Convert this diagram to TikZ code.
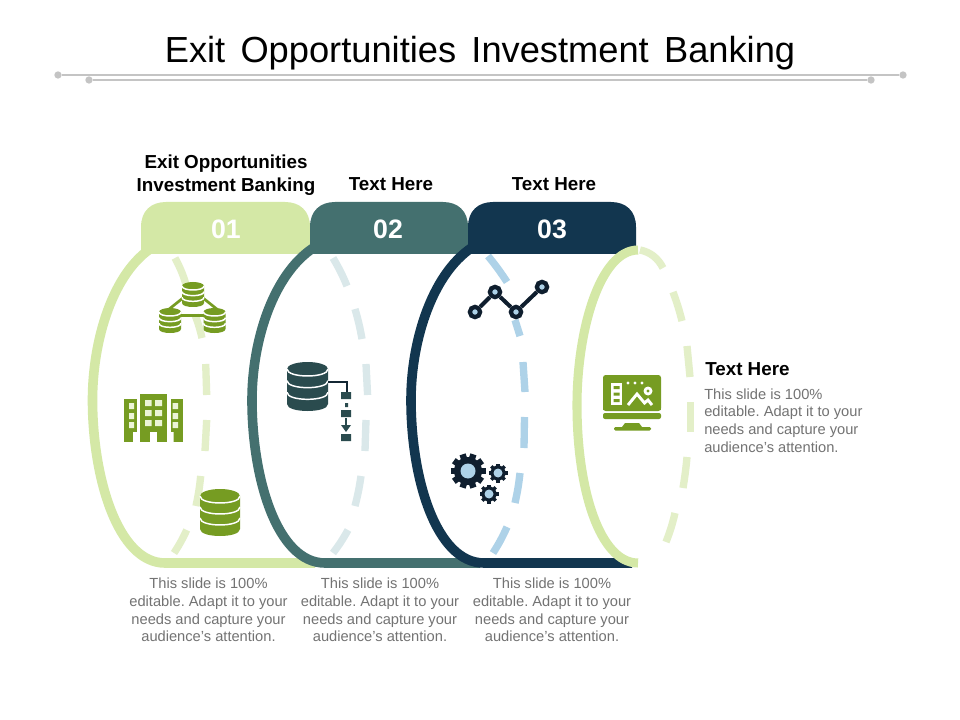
\documentclass[tikz,border=0pt]{standalone}
\usepackage{fontspec}
\setmainfont{Liberation Sans}
\frenchspacing
\definecolor{lgreen}{HTML}{D4E8A6}
\definecolor{dgreen}{HTML}{E3EFC8}
\definecolor{teal}{HTML}{44706F}
\definecolor{dteal}{HTML}{DAE8EA}
\definecolor{navy}{HTML}{12364F}
\definecolor{lblue}{HTML}{AED2E8}
\definecolor{olive}{HTML}{769C22}
\definecolor{darkteal}{HTML}{2A4B4E}
\definecolor{ink}{HTML}{0F1E2E}
\definecolor{rulegrey}{HTML}{C4C4C4}
\definecolor{bodygrey}{HTML}{737373}
% stacked database: centre x, top y, half width, bottom y, ellipse ry, colour
\newcommand\dbstack[6]{%
  \fill[#6] (#1-#3,#2+#5) -- (#1-#3,#4-#5) .. controls (#1-#3,#4+#5/3) and (#1+#3,#4+#5/3) .. (#1+#3,#4-#5) -- (#1+#3,#2+#5) -- cycle;
  \fill[#6] (#1,#2+#5) ellipse [x radius=#3, y radius=#5];
  \pgfmathsetmacro\dbh{(#4-#2-2*#5)/3}
  \foreach \k in {0,1,2}{
    \pgfmathsetmacro\dby{#2+#5+\k*\dbh}
    \draw[white,line width=1.1pt] (#1-#3,\dby) .. controls (#1-#3,\dby+1.33*#5) and (#1+#3,\dby+1.33*#5) .. (#1+#3,\dby);
  }
}
% gear: centre x, y, outer radius, hole radius, teeth
\newcommand\gearicon[5]{%
  \fill[ink] (#1,#2) circle [radius=#3*0.8];
  \pgfmathsetmacro\gstep{360/#5}
  \foreach \t in {1,...,#5}{
    \draw[ink,line width=#3*0.27pt] ({#1+#3*0.6*cos(\t*\gstep)},{#2+#3*0.6*sin(\t*\gstep)}) -- ({#1+#3*cos(\t*\gstep)},{#2+#3*sin(\t*\gstep)});
  }
  \fill[lblue] (#1,#2) circle [radius=#4];
}
\tikzset{
  band/.style={line width=7.2pt,line join=round},
  dashpiece/.style={line width=5.5pt},
  tabnum/.style={text=white,font=\fontsize{20}{24}\selectfont\bfseries,inner sep=0pt},
  head/.style={font=\fontsize{14.1}{17}\selectfont\bfseries,align=center,inner sep=0pt,text=black},
  bodytext/.style={font=\fontsize{11}{13.35}\selectfont,text=bodygrey,inner sep=0pt},
  ruleline/.style={rulegrey,line width=0.9pt},
  ruledot/.style={circle,fill=rulegrey,inner sep=0pt,minimum size=5.5pt},
  pointdot/.style={circle,fill=lblue,draw=ink,line width=3.2pt,inner sep=0pt,minimum size=7.7pt}
}
\begin{document}
\begin{tikzpicture}[x=0.75pt,y=-0.75pt]
\useasboundingbox (0,0) rectangle (960,720);
\fill[white] (0,0) rectangle (960,720);

% title and rules
\node[inner sep=0pt,text=black,font=\fontsize{27.2}{32}\selectfont] (title) at (480,53) {\spaceskip=0.42em Exit Opportunities Investment Banking};
\node[ruledot] (ra) at (58,75) {};
\node[ruledot] (rb) at (903,75) {};
\node[ruledot] (rc) at (89,80) {};
\node[ruledot] (rd) at (871,80) {};
\draw[ruleline] (ra) -- (rb);
\draw[ruleline] (rc) -- (rd);

% ---------- band 1
\draw[dgreen,dashpiece] (175,258) to[bend left=6] (187,288);
\draw[dgreen,dashpiece] (195,315) to[bend left=4] (202,338);
\draw[dgreen,dashpiece] (205.7,364) -- (206.7,395);
\draw[dgreen,dashpiece] (206.7,420) -- (205,451);
\draw[dgreen,dashpiece] (200.7,476) to[bend left=3] (196,506);
\draw[dgreen,dashpiece] (186.7,530) to[bend left=4] (174,553);
\draw[lgreen,band] (153,247) .. controls (113,272) and (92.5,340) .. (92.5,400) .. controls (92.5,478) and (118,563) .. (165,563) -- (315,563);
\fill[lgreen] (141,254) -- (141,227) .. controls (141,211) and (151,202) .. (166,202) -- (285,202) .. controls (300,202) and (310,211) .. (310,227) -- (310,254) -- cycle;
\node[tabnum] (n1) at (226,229) {01};

% ---------- band 2
\draw[dteal,dashpiece] (333,258) to[bend left=4] (347,286);
\draw[dteal,dashpiece] (355,309) to[bend left=3] (362,339);
\draw[dteal,dashpiece] (366,364) -- (367.6,395);
\draw[dteal,dashpiece] (366,420) -- (365,451);
\draw[dteal,dashpiece] (361,476) to[bend left=3] (355,506);
\draw[dteal,dashpiece] (348,530) to[bend left=4] (333,553);
\draw[teal,band] (318,245) .. controls (274,270) and (252,340) .. (252,400) .. controls (252,478) and (277,563) .. (325,563) -- (480,563);
\fill[teal] (310,254) -- (310,227) .. controls (310,211) and (320,202) .. (335,202) -- (443,202) .. controls (458,202) and (468,211) .. (468,227) -- (468,254) -- cycle;
\node[tabnum] (n2) at (388,229) {02};

% ---------- band 3
\draw[lblue,dashpiece] (488,256) to[bend left=3] (507,282);
\draw[lblue,dashpiece] (515,320) -- (520,336);
\draw[lblue,dashpiece] (523,362) -- (525,392);
\draw[lblue,dashpiece] (524.5,417) -- (524,448);
\draw[lblue,dashpiece] (520,473) to[bend left=3] (515,503);
\draw[lblue,dashpiece] (507,527) to[bend left=4] (493,553);
\draw[navy,band] (476,245) .. controls (433,270) and (411,340) .. (411,400) .. controls (411,478) and (436,563) .. (484,563) -- (632,563);
\fill[navy] (468,254) -- (468,227) .. controls (468,211) and (478,202) .. (493,202) -- (611,202) .. controls (626,202) and (636,211) .. (636,227) -- (636,254) -- cycle;
\node[tabnum] (n3) at (552,229) {03};

% ---------- closing ellipse
\draw[dgreen,dashpiece] (640,250) .. controls (650,252) and (658,258) .. (663,268);
\draw[dgreen,dashpiece] (673,292) to[bend left=3] (682,321);
\draw[dgreen,dashpiece] (687,346) -- (690,377);
\draw[dgreen,dashpiece] (690.5,402) -- (690.5,432);
\draw[dgreen,dashpiece] (687,457) to[bend left=2] (683,488);
\draw[dgreen,dashpiece] (675,513) to[bend left=4] (666,542);
\draw[lgreen,line width=6.8pt] (638,250) .. controls (600,250) and (577,330) .. (577,405) .. controls (577,490) and (600,563) .. (638,563);

% ---------- icon: network of databases
\draw[olive,line width=2pt] (183,298) -- (168,310) (203,298) -- (218,310) (178,315.5) -- (207,315.5);
\dbstack{193}{282}{11}{307}{4}{olive}
\dbstack{170}{308}{11}{333}{4}{olive}
\dbstack{214.5}{308}{11}{333}{4}{olive}

% ---------- icon: building
\fill[olive] (124,399) rectangle (137,442);
\fill[olive] (140,394) rectangle (167,442);
\fill[olive] (171,399) rectangle (183,442);
\fill[white] (133,432) rectangle (137.5,442) (171,432) rectangle (173.5,442);
\fill[lgreen!45!white] (129,403) rectangle (134,409) (129,413) rectangle (134,419) (129,422) rectangle (134,428);
\fill[lgreen!45!white] (172.5,403) rectangle (178,409) (172.5,413) rectangle (178,419) (172.5,422) rectangle (178,428);
\fill[lgreen!45!white] (145,400) rectangle (151.5,406) (155,400) rectangle (162,406) (145,410) rectangle (151.5,416) (155,410) rectangle (162,416) (145,420) rectangle (151.5,426) (155,420) rectangle (162,426);
\fill[white] (150,432) rectangle (157,442);

% ---------- icon: big database
\dbstack{220}{489}{20}{536}{7}{olive}

% ---------- icon: database with flow
\dbstack{307.5}{362}{20.5}{411}{7}{darkteal}
\draw[ink!80!darkteal,line width=0.8pt] (328,382) -- (347,382) -- (347,392);
\fill[darkteal] (341,392) rectangle (351,399) (345,403) rectangle (348,407) (341,410) rectangle (351,417) (341,434) rectangle (351,441);
\draw[darkteal,line width=1.6pt] (346,418) -- (346,426);
\fill[darkteal] (341,425) -- (351,425) -- (346,432) -- cycle;

% ---------- icon: line chart
\node[pointdot] (pa) at (475,312) {};
\node[pointdot] (pb) at (495,292) {};
\node[pointdot] (pc) at (516,312) {};
\node[pointdot] (pd) at (542,287) {};
\draw[ink,line width=3pt] (pa) -- (pb);
\draw[ink,line width=3pt] (pb) -- (pc);
\draw[ink,line width=3pt] (pc) -- (pd);

% ---------- icon: gears
\gearicon{468}{471}{17.5}{7.5}{10}
\gearicon{498}{473}{9.5}{4.5}{8}
\gearicon{489}{494}{9.5}{4.5}{8}

% ---------- icon: monitor
\fill[olive,rounded corners=2pt] (603,375) rectangle (661,411);
\fill[olive] (603,405) rectangle (661,410);
\fill[olive,rounded corners=1.5pt] (603,413) rectangle (661,419);
\fill[olive] (625,423) -- (639,423) -- (642,427) -- (622,427) -- cycle;
\fill[olive,rounded corners=1pt] (614,427) rectangle (651,430.5);
\fill[white] (611,383) rectangle (622,405);
\fill[olive] (613.5,386) rectangle (619.5,389) (613.5,392.5) rectangle (619.5,395.5) (613.5,399) rectangle (619.5,402);
\fill[white] (628,383) circle [radius=1.6] (635,383) circle [radius=1.6] (642,383) circle [radius=1.6];
\draw[white,line width=2.2pt] (628,405) -- (637,394) -- (644.5,403) -- (648,400) -- (652,405);
\fill[white] (648,391) circle [radius=4.5];
\fill[olive] (648,391) circle [radius=1.7];

% ---------- labels
\node[head] (h1) at (226,175.5) {Exit Opportunities\\Investment Banking};
\node[head] (h2) at (391,184) {Text Here};
\node[head] (h3) at (554,184) {Text Here};
\node[head,anchor=west] (h4) at (705,369) {Text Here};
\node[bodytext,align=center] (b1) at (208.5,610) {This slide is 100\%\\editable. Adapt it to your\\needs and capture your\\audience's attention.};
\node[bodytext,align=center] (b2) at (380,610) {This slide is 100\%\\editable. Adapt it to your\\needs and capture your\\audience's attention.};
\node[bodytext,align=center] (b3) at (552,610) {This slide is 100\%\\editable. Adapt it to your\\needs and capture your\\audience's attention.};
\node[bodytext,align=left,anchor=west] (b4) at (704,420.5) {This slide is 100\%\\editable. Adapt it to your\\needs and capture your\\audience's attention.};
\end{tikzpicture}
\end{document}
